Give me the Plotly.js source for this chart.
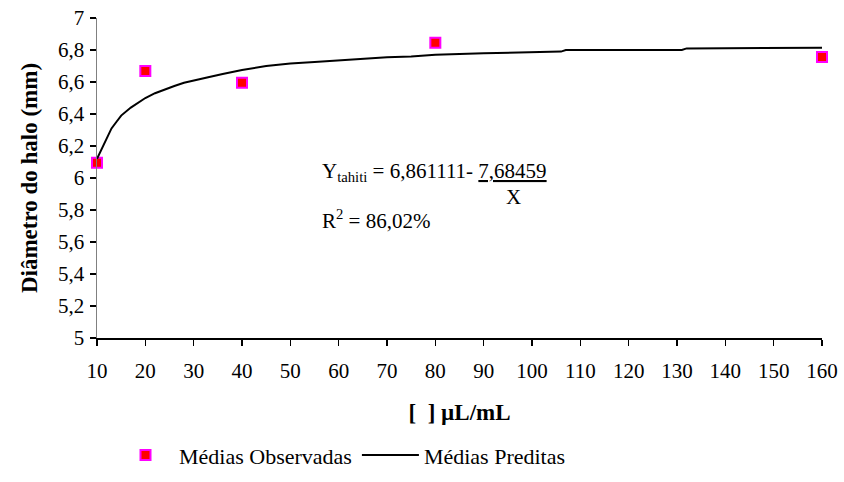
<!DOCTYPE html>
<html>
<head>
<meta charset="utf-8">
<script src="https://cdn.plot.ly/plotly-3.0.1.min.js"></script>
<style>html,body{margin:0;padding:0;background:#fff;}#chart{width:844px;height:482px;}</style>
</head>
<body>
<div id="chart"></div>
<script>
// Observed means
const obsX = [10, 20, 40, 80, 160];
const obsY = [6.096, 6.668, 6.596, 6.845, 6.756];
// Predicted means
const predX = [10, 11, 12, 13, 14, 15, 17, 19, 20, 22, 24, 26, 28, 30, 33, 36, 40, 45, 50, 55, 60, 65, 70, 75, 80, 90, 100, 106, 107, 120, 131, 132, 145, 160];
const predY = [6.12, 6.18, 6.25, 6.31, 6.35, 6.39, 6.44, 6.48, 6.50, 6.53, 6.555, 6.575, 6.595, 6.61, 6.63, 6.65, 6.675, 6.70, 6.715, 6.725, 6.735, 6.745, 6.755, 6.76, 6.77, 6.78, 6.785, 6.79, 6.80, 6.80, 6.80, 6.81, 6.81, 6.814];
const xTicks = [10, 20, 30, 40, 50, 60, 70, 80, 90, 100, 110, 120, 130, 140, 150, 160];
const yTicks = [5, 5.2, 5.4, 5.6, 5.8, 6, 6.2, 6.4, 6.6, 6.8, 7];
const names = ['Médias Observadas', 'Médias Preditas'];

const FONT = '"Liberation Serif", "Times New Roman", Times, serif';

const traces = [
  {
    x: obsX, y: obsY, type: 'scatter', mode: 'markers', name: names[0],
    marker: {symbol: 'square', size: 10, color: '#ff0000', line: {color: '#ff00ff', width: 2}},
    cliponaxis: false
  },
  {
    x: predX, y: predY, type: 'scatter', mode: 'lines', name: names[1],
    line: {color: '#000000', width: 2},
    cliponaxis: false
  }
];

const layout = {
  width: 844, height: 482,
  margin: {l: 97, r: 22, t: 18, b: 144, autoexpand: false},
  paper_bgcolor: '#ffffff', plot_bgcolor: '#ffffff',
  separators: ', ',
  font: {family: FONT, size: 21, color: '#000'},
  showlegend: true,
  legend: {
    orientation: 'h', x: 0.0207, y: -0.366, xanchor: 'left', yanchor: 'middle',
    font: {family: FONT, size: 22, color: '#000'},
    traceorder: 'normal', itemwidth: 57
  },
  xaxis: {
    range: [10, 160], tickvals: xTicks, ticktext: xTicks.map(String),
    showgrid: false, zeroline: false,
    showline: true, linecolor: '#000', linewidth: 1.5,
    ticks: 'outside', ticklen: 6, tickcolor: '#000', tickwidth: 1.5,
    tickfont: {family: FONT, size: 21, color: '#000'},
    ticklabelstandoff: 7,
    title: {text: '<b>[  ] µL/mL</b>', font: {family: FONT, size: 23, color: '#000'}, standoff: 22}
  },
  yaxis: {
    range: [5, 7], tickvals: yTicks,
    showgrid: false, zeroline: false,
    showline: true, linecolor: '#808080', linewidth: 1.5,
    ticks: 'outside', ticklen: 6, tickcolor: '#000', tickwidth: 1.5,
    tickfont: {family: FONT, size: 21, color: '#000'},
    ticklabelstandoff: 1,
    title: {text: '<b>Diâmetro do halo (mm)</b>', font: {family: FONT, size: 23, color: '#000'}, standoff: 14}
  },
  annotations: [
    {xref: 'paper', yref: 'paper', x: (320 - 97) / 725, y: (338 - 172) / 320, xanchor: 'left', yanchor: 'middle',
     text: 'Y<sub>tahiti</sub> = 6,861111- <u>7,68459</u>', showarrow: false, font: {family: FONT, size: 21, color: '#000'}},
    {xref: 'paper', yref: 'paper', x: (513 - 97) / 725, y: (338 - 197) / 320, xanchor: 'center', yanchor: 'middle',
     text: 'X', showarrow: false, font: {family: FONT, size: 21, color: '#000'}},
    {xref: 'paper', yref: 'paper', x: (320 - 97) / 725, y: (338 - 219) / 320, xanchor: 'left', yanchor: 'middle',
     text: 'R<sup>2</sup> = 86,02%', showarrow: false, font: {family: FONT, size: 21, color: '#000'}}
  ]
};

Plotly.newPlot('chart', traces, layout, {displayModeBar: false, staticPlot: true});
</script>
</body>
</html>
